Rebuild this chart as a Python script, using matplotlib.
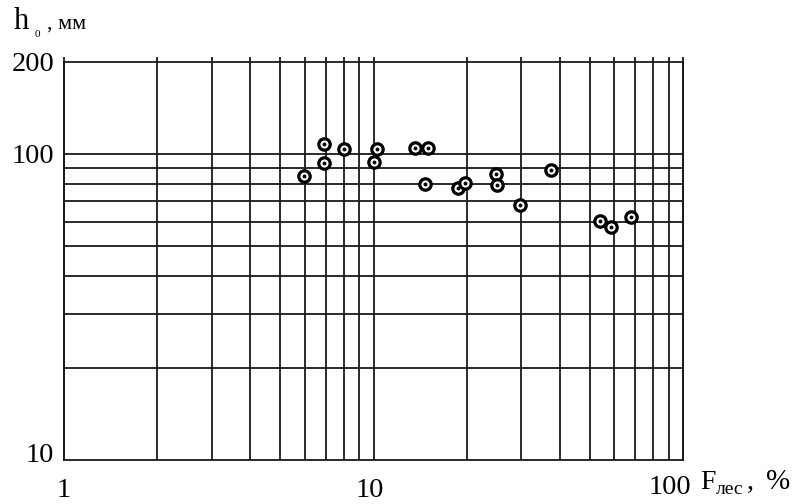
import matplotlib
matplotlib.use("Agg")
import matplotlib.pyplot as plt
from matplotlib.ticker import FixedLocator, NullFormatter, FixedFormatter
from matplotlib.transforms import ScaledTranslation

# Data
forest_pct = [5.95, 6.93, 6.93, 8.0, 10.0, 10.3, 13.6, 14.96, 14.7, 18.8, 19.8,
              24.9, 25.1, 29.7, 37.5, 54.0, 58.6, 67.9]
h0_mm = [84.6, 107.6, 93.3, 103.6, 94.3, 104.1, 104.4, 104.4, 79.8, 77.4, 80.4,
         86.0, 79.1, 67.9, 88.9, 60.2, 57.9, 62.2]

x_major = [1, 10, 100]
x_major_labels = ["1", "10", "100"]
x_minor = [2, 3, 4, 5, 6, 7, 8, 9, 20, 30, 40, 50, 60, 70, 80, 90]
y_major = [10, 100, 200]
y_major_labels = ["10", "100", "200"]
y_minor = [20, 30, 40, 50, 60, 70, 80, 90]

W, H = 802, 504
fig = plt.figure(figsize=(W / 100, H / 100), dpi=100)
ax = fig.add_axes([64 / W, 1 - 460 / H, (683 - 64) / W, (460 - 61.7) / H])
ax.set_xscale("log")
ax.set_yscale("log")
ax.set_xlim(1, 100)
ax.set_ylim(10, 200)

LC = "#1a1a1a"
LW = 1.3
for s in ax.spines.values():
    s.set_color(LC)
    s.set_linewidth(LW)

# grid lines (vertical ones poke slightly above the top frame)
xt = ax.get_xaxis_transform()
for xv in x_major + x_minor:
    ax.plot([xv, xv], [0, 1.011], transform=xt, color=LC, lw=LW,
            clip_on=False, zorder=1, solid_capstyle="butt")
for yv in y_minor + [100]:
    ax.axhline(yv, color=LC, lw=LW, zorder=1)

ax.xaxis.set_major_locator(FixedLocator(x_major))
ax.xaxis.set_major_formatter(FixedFormatter(x_major_labels))
ax.xaxis.set_minor_locator(FixedLocator(x_minor))
ax.xaxis.set_minor_formatter(NullFormatter())
ax.yaxis.set_major_locator(FixedLocator(y_major))
ax.yaxis.set_major_formatter(FixedFormatter(y_major_labels))
ax.yaxis.set_minor_locator(FixedLocator(y_minor))
ax.yaxis.set_minor_formatter(NullFormatter())
ax.tick_params(which="both", length=0)
ax.tick_params(axis="x", pad=13)
ax.tick_params(axis="y", pad=7)

serif = "Liberation Serif"
for lab in ax.get_xticklabels() + ax.get_yticklabels():
    lab.set_fontfamily(serif)
    lab.set_fontsize(20.5)
    lab.set_color("black")

xl = ax.get_xticklabels()
xl[1].set_transform(xl[1].get_transform() + ScaledTranslation(-0.04, 0, fig.dpi_scale_trans))
xl[2].set_transform(xl[2].get_transform() + ScaledTranslation(-0.13, 0.03, fig.dpi_scale_trans))
yl = ax.get_yticklabels()
yl[0].set_transform(yl[0].get_transform() + ScaledTranslation(0, 0.08, fig.dpi_scale_trans))

# markers: ring + centre dot
ax.plot(forest_pct, h0_mm, "o", ms=8.2, mfc="white", mec="black", mew=2.3,
        zorder=5, clip_on=False)
ax.plot(forest_pct, h0_mm, "o", ms=2.8, mfc="black", mec="black", mew=0,
        zorder=6, clip_on=False)

def px(x, y):
    return x / W, 1 - y / H

# y-axis label: h0, мм
fig.text(*px(14, 29), "h", fontfamily=serif, fontsize=22, ha="left", va="baseline")
fig.text(*px(35, 37), "0", fontfamily=serif, fontsize=8, ha="left", va="baseline")
fig.text(*px(47, 29), ", мм", fontfamily=serif, fontsize=16, ha="left", va="baseline")

# x-axis label: Fлес, %
fig.text(*px(700, 489), "F", fontfamily=serif, fontsize=20, ha="left", va="baseline")
fig.text(*px(716, 494), "лес", fontfamily=serif, fontsize=14, ha="left", va="baseline")
fig.text(*px(747, 489), ",", fontfamily=serif, fontsize=20, ha="left", va="baseline")
fig.text(*px(766, 489), "%", fontfamily=serif, fontsize=21, ha="left", va="baseline")

fig.savefig("out.png", dpi=100, facecolor="white")
